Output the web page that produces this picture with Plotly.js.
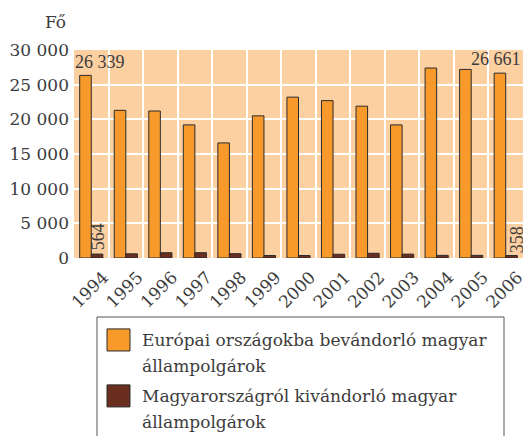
<!DOCTYPE html>
<html>
<head>
<meta charset="utf-8">
<script src="https://cdn.plot.ly/plotly-3.0.1.min.js"></script>
<style>html,body{margin:0;padding:0;background:#fff;}#chart{width:523px;height:436px;}</style>
</head>
<body>
<div id="chart"></div>
<script>
const years = ['1994','1995','1996','1997','1998','1999','2000','2001','2002','2003','2004','2005','2006'];
const immigrantsEurope = [26339, 21300, 21200, 19200, 16600, 20500, 23200, 22700, 21900, 19200, 27400, 27200, 26661];
const emigrantsHungary = [564, 600, 760, 760, 620, 360, 360, 540, 680, 560, 380, 380, 358];
const seriesNames = ['Európai országokba bevándorló magyar', 'állampolgárok', 'Magyarországról kivándorló magyar', 'állampolgárok'];
const yTicks = [0, 5000, 10000, 15000, 20000, 25000, 30000];

const ORANGE = '#F7992B', BROWN = '#6A2E1F', BG = '#FDD0A2', TXT = '#3c3c3c';
const FONT = 'DejaVu Serif';
const LFONT = 'Liberation Serif';

const traces = [
  {type:'bar', x: years, y: immigrantsEurope, name: seriesNames[0],
   marker:{color: ORANGE, line:{color:'#2b2b2b', width:1}}, hoverinfo:'skip'},
  {type:'bar', x: years, y: emigrantsHungary, name: seriesNames[2],
   marker:{color: BROWN, line:{color:'#2b2b2b', width:1}}, hoverinfo:'skip'}
];

const fmt = v => String(v).replace(/\B(?=(\d{3})+(?!\d))/g, ' ');
const last = years.length - 1;

const annotations = [
  {xref:'paper', yref:'paper', x:-0.013, y:1.135, xanchor:'right', yanchor:'middle', text:'Fő', showarrow:false, font:{family:FONT, size:17, color:TXT}},
  {xref:'x', yref:'y', x: 0, y: immigrantsEurope[0], xanchor:'left', yanchor:'bottom', xshift:-18, yshift:1, text: fmt(immigrantsEurope[0]), showarrow:false, font:{family:LFONT, size:18, color:TXT}},
  {xref:'x', yref:'y', x: last, y: immigrantsEurope[last], xanchor:'right', yanchor:'bottom', xshift:17, yshift:2, text: fmt(immigrantsEurope[last]), showarrow:false, font:{family:LFONT, size:18, color:TXT}},
  {xref:'x', yref:'y', x: 0, y: emigrantsHungary[0], xanchor:'center', yanchor:'middle', xshift:7, yshift:17, textangle:-90, text: fmt(emigrantsHungary[0]), showarrow:false, font:{family:LFONT, size:18, color:TXT}},
  {xref:'x', yref:'y', x: last, y: emigrantsHungary[last], xanchor:'center', yanchor:'middle', xshift:11, yshift:16, textangle:-90, text: fmt(emigrantsHungary[last]), showarrow:false, font:{family:LFONT, size:18, color:TXT}}
];

// legend text (manual legend)
const legY = [-0.395, -0.52, -0.665, -0.79];
seriesNames.forEach((t, i) => {
  annotations.push({xref:'paper', yref:'paper', x:0.148, y:legY[i], xanchor:'left', yanchor:'middle', text:t, showarrow:false, font:{family:FONT, size:17, color:TXT}});
});

const shapes = [
  {type:'rect', xref:'paper', yref:'paper', x0:0.0512, x1:0.9577, y0:-0.90, y1:-0.2837, line:{color:'#555', width:1}, fillcolor:'rgba(0,0,0,0)'},
  {type:'rect', xref:'paper', yref:'paper', x0:0.0735, x1:0.1247, y0:-0.447, y1:-0.341, line:{color:'#2b2b2b', width:1}, fillcolor:ORANGE},
  {type:'rect', xref:'paper', yref:'paper', x0:0.0735, x1:0.1247, y0:-0.716, y1:-0.610, line:{color:'#2b2b2b', width:1}, fillcolor:BROWN}
];

const layout = {
  width:523, height:436,
  margin:{l:74, r:0, t:50, b:178},
  paper_bgcolor:'#fff', plot_bgcolor:BG,
  separators:', ',
  barmode:'group', bargap:0.33, bargroupgap:0,
  showlegend:false,
  font:{family:FONT, color:TXT},
  xaxis:{type:'category', range:[-0.5, years.length - 0.5], tickson:'boundaries', showgrid:true, gridcolor:'#fff', gridwidth:2,
         tickangle:-45, ticks:'', tickfont:{family:FONT, size:17, color:TXT}, zeroline:false, showline:false, fixedrange:true,
         ticklabelshift:12, ticklabelstandoff:5},
  yaxis:{range:[0,30000], tickvals:yTicks, tickformat:',d', showgrid:true, gridcolor:'#fff', gridwidth:2,
         ticks:'', tickfont:{family:FONT, size:17, color:TXT}, zeroline:false, showline:false, fixedrange:true, ticklabelstandoff:4},
  annotations: annotations,
  shapes: shapes
};

Plotly.newPlot('chart', traces, layout, {displayModeBar:false, staticPlot:true});
</script>
</body>
</html>
